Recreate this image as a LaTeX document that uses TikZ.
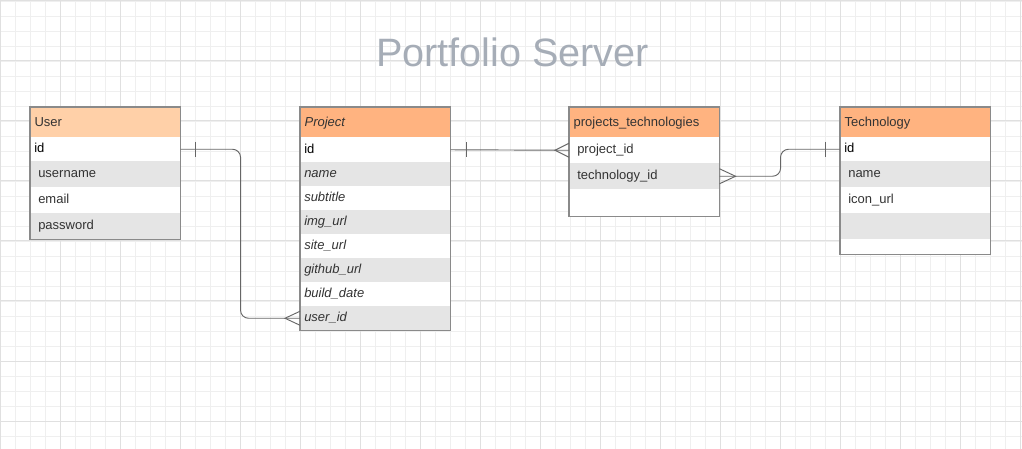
\documentclass[tikz,border=0pt]{standalone}
\usepackage{fontspec}
\setmainfont{Liberation Sans}
\usetikzlibrary{calc}
\definecolor{hdrlight}{HTML}{FFD0A8}
\definecolor{hdrorange}{HTML}{FFB380}
\definecolor{rowgray}{HTML}{E5E5E5}
\definecolor{frame}{HTML}{8A8A8A}
\definecolor{linkgray}{HTML}{666666}
\definecolor{gridminor}{HTML}{EFEFEF}
\definecolor{gridmajor}{HTML}{E0E0E0}
\definecolor{titlegray}{HTML}{A6ADB7}
\definecolor{txt}{HTML}{333333}
\tikzset{
  every node/.style={font=\fontsize{9.75}{11}\selectfont, text=txt},
  cell/.style={anchor=north west, inner ysep=0pt, align=left, fill=white,
    text height=7.5pt, text depth=2.2pt},
  key/.style={cell, inner xsep=3pt, text width=106.5pt},
  field/.style={cell, inner xsep=6pt, text width=100.5pt},
  hdr/.style={key, fill=hdrorange, draw=frame, line width=0.9pt, minimum height=22.5pt},
  shade/.style={fill=rowgray},
  tbl/.style={draw=frame, line width=0.9pt},
  conn/.style={draw=linkgray, line width=0.7pt},
}
\begin{document}
\begin{tikzpicture}[x=0.75pt, y=-0.75pt]
\useasboundingbox (0,0) rectangle (1022,449);
\fill[white] (0,0) rectangle (1022,449);
% grid
\foreach \x in {0,15,...,1020} \draw[gridminor, line width=0.6pt] (\x,0) -- (\x,449);
\foreach \y in {1,16,...,449} \draw[gridminor, line width=0.6pt] (0,\y) -- (1022,\y);
\foreach \x in {0,60,...,1020} \draw[gridmajor, line width=0.75pt] (\x,0) -- (\x,449);
\foreach \y in {1,61,...,421} \draw[gridmajor, line width=0.75pt] (0,\y) -- (1022,\y);

\node[anchor=base, text=titlegray, font=\fontsize{29.7}{36}\selectfont] (title) at (512.5,67) {Portfolio Server};

% User
\node[hdr, fill=hdrlight] (user-h) at (30,107) {User};
\node[key, minimum height=18pt, text=black] (user-1) at (30,137) {id};
\node[field, shade, minimum height=19.5pt] (user-2) at (30,161) {username};
\node[field, minimum height=19.5pt] (user-3) at (30,187) {email};
\node[field, shade, minimum height=19.5pt] (user-4) at (30,213) {password};
\draw[tbl] (user-h.north west) rectangle (user-4.south east);

% Project
\node[hdr] (proj-h) at (300,107) {\itshape Project};
\node[key, minimum height=18.75pt, text=black] (proj-1) at (300,137) {id};
\node[key, shade, minimum height=18pt] (proj-2) at (300,162) {\itshape name};
\node[key, minimum height=18pt] (proj-3) at (300,186) {\itshape subtitle};
\node[key, shade, minimum height=18pt] (proj-4) at (300,210) {\itshape img\_url};
\node[key, minimum height=18pt] (proj-5) at (300,234) {\itshape site\_url};
\node[key, shade, minimum height=18pt] (proj-6) at (300,258) {\itshape github\_url};
\node[key, minimum height=18pt] (proj-7) at (300,282) {\itshape build\_date};
\node[key, shade, minimum height=18pt] (proj-8) at (300,306) {\itshape user\_id};
\draw[tbl] (proj-h.north west) rectangle (proj-8.south east);

% projects_technologies
\node[hdr] (pt-h) at (569,107) {projects\_technologies};
\node[field, minimum height=19.5pt] (pt-1) at (569,137) {project\_id};
\node[field, shade, minimum height=19.5pt] (pt-2) at (569,163) {technology\_id};
\node[field, minimum height=20.25pt] (pt-3) at (569,189) {};
\draw[tbl] (pt-h.north west) rectangle (pt-3.south east);

% Technology
\node[hdr] (tech-h) at (840,107) {Technology};
\node[key, minimum height=18pt, text=black] (tech-1) at (840,137) {id};
\node[field, shade, minimum height=19.5pt] (tech-2) at (840,161) {name};
\node[field, minimum height=19.5pt] (tech-3) at (840,187) {icon\_url};
\node[field, shade, minimum height=19.5pt] (tech-4) at (840,213) {};
\node[field, minimum height=11.25pt] (tech-5) at (840,239) {};
\draw[tbl] (tech-h.north west) rectangle (tech-5.south east);

% User 1 -- n Project
\draw[conn, rounded corners=6] (user-1.east) -- ++(60,0) |- (proj-8.west);
\draw[conn] ($(user-1.east)+(15,-7.5)$) -- ++(0,15);
\draw[conn] ($(proj-8.west)+(0,-7)$) -- ++(-15,7) -- ++(15,7);

% Project 1 -- n projects_technologies
\draw[conn] (proj-1.east) -- (pt-1.west);
\draw[conn] ($(proj-1.east)+(15.5,-7.5)$) -- ++(0,15);
\draw[conn] ($(pt-1.west)+(0,-7)$) -- ++(-14,7) -- ++(14,7);

% projects_technologies n -- 1 Technology
\draw[conn, rounded corners=6] (pt-2.east) -- ++(61,0) |- (tech-1.west);
\draw[conn] ($(tech-1.west)+(-15,-7.5)$) -- ++(0,15);
\draw[conn] ($(pt-2.east)+(0,-7.5)$) -- ++(16,7.5) -- ++(-16,7.5);
\end{tikzpicture}
\end{document}
